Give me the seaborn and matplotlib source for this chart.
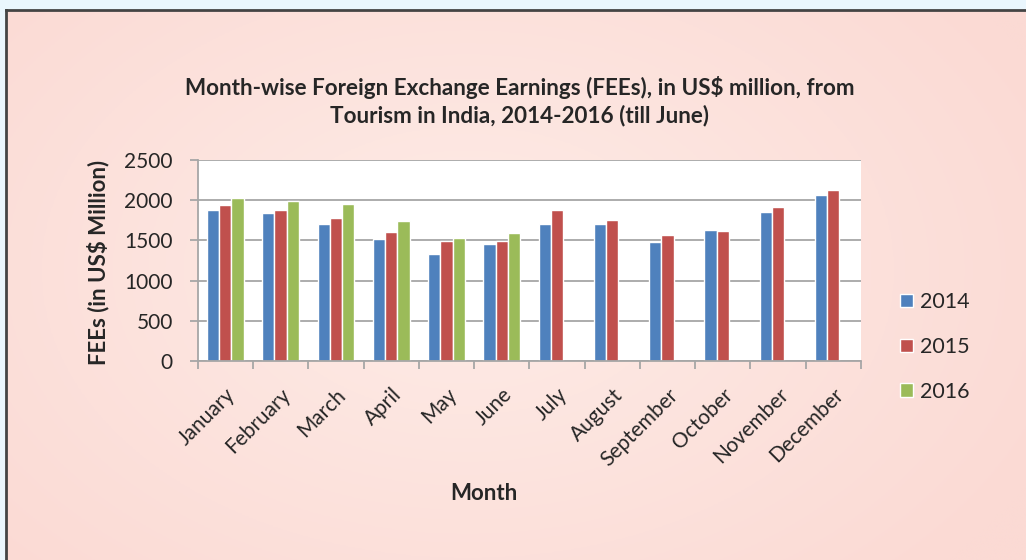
"""Month-wise FEEs from tourism in India, 2014-2016 (grouped bars)"""
import numpy as np
import pandas as pd
import matplotlib

matplotlib.use("Agg")
import matplotlib.pyplot as plt
import seaborn as sns

months = ["January", "February", "March", "April", "May", "June",
          "July", "August", "September", "October", "November", "December"]
fee_2014 = [1878, 1845, 1708, 1514, 1327, 1459, 1704, 1700, 1484, 1630, 1853, 2065]
fee_2015 = [1940, 1874, 1775, 1605, 1493, 1497, 1878, 1750, 1564, 1617, 1912, 2123]
fee_2016 = [2028, 1994, 1953, 1742, 1530, 1592]  # till June
years = ["2014", "2015", "2016"]
colors = ["#4F81BD", "#C0504D", "#9BBB59"]

rows = []
for year, vals in zip(years, [fee_2014, fee_2015, fee_2016]):
    for m, v in zip(months, vals):
        rows.append({"Month": m, "Year": year, "FEE": v})
df = pd.DataFrame(rows)

sns.set_style("white")
plt.rcParams["font.family"] = ["Lato", "DejaVu Sans"]

fig = plt.figure(figsize=(10.26, 5.6), dpi=100)
fig.patch.set_facecolor("#EAF6FD")

# pink gradient panel with dark border (top and left edges only visible)
bg = fig.add_axes([6 / 1026, -0.05, 1.0, 0.05 + 550 / 560])
yy, xx = np.mgrid[0:1:200j, 0:1:300j]
dist = np.sqrt(((xx - 0.45) * 1.2) ** 2 + (yy - 0.45) ** 2)
light = np.array([254, 236, 231]) / 255
dark = np.array([251, 218, 212]) / 255
t = np.clip(dist / 0.75, 0, 1)[..., None]
bg.imshow(light * (1 - t) + dark * t, aspect="auto", extent=[0, 1, 0, 1])
bg.set_xticks([])
bg.set_yticks([])
for side, sp in bg.spines.items():
    if side in ("top", "left"):
        sp.set_color("#444444")
        sp.set_linewidth(2)
    else:
        sp.set_visible(False)

ax = fig.add_axes([197.7 / 1026, 199 / 560, 663.3 / 1026, 201 / 560])
ax.set_facecolor("white")
sns.barplot(data=df, x="Month", y="FEE", hue="Year", order=months,
            hue_order=years, palette=colors, width=0.665, saturation=1,
            ax=ax, legend=True)

ax.set_xlim(-0.5, 11.5)
ax.set_ylim(0, 2500)
ax.set_yticks(range(0, 2501, 500))
ax.yaxis.grid(True, color="#A6A6A6", linewidth=1.3)
ax.set_axisbelow(True)
for s in ("top", "right"):
    ax.spines[s].set_visible(False)
for s in ("left", "bottom"):
    ax.spines[s].set_color("#A6A6A6")
    ax.spines[s].set_linewidth(1.3)

ax.set_xticks(np.arange(-0.5, 12, 1), minor=True)
ax.tick_params(axis="x", which="minor", length=6, color="#A6A6A6", width=1.3,
               direction="out", bottom=True)
ax.tick_params(axis="x", which="major", length=0, pad=17)
ax.tick_params(axis="y", length=5.8, color="#A6A6A6", width=1.3, left=True,
               labelsize=15, pad=12)
ax.set_xticks(range(12))
ax.set_xticklabels(months, rotation=45, ha="right", rotation_mode="anchor",
                   fontsize=15)

ax.set_xlabel("")
ax.set_ylabel("")
fig.text(484 / 1026, 1 - 493 / 560, "Month", ha="center", va="center",
         fontsize=16, fontweight="bold")
fig.text(98 / 1026, 1 - 262 / 560, "FEEs (in US$ Million)", ha="center",
         va="center", rotation=90, fontsize=16, fontweight="bold")
fig.text(519.5 / 1026, 1 - 101 / 560,
         "Month-wise Foreign Exchange Earnings (FEEs), in US$ million, from\n"
         "Tourism in India, 2014-2016 (till June)",
         ha="center", va="center", fontsize=16.2, fontweight="bold",
         linespacing=1.3)

handles, labels = ax.get_legend_handles_labels()
ax.get_legend().remove()
fig.legend(handles, labels, loc="center left",
           bbox_to_anchor=(900 / 1026, 1 - 347 / 560), frameon=False,
           fontsize=15.5, handlelength=0.6, handleheight=0.6,
           handletextpad=0.35, labelspacing=1.15, borderpad=0,
           borderaxespad=0)

fig.savefig("out.png", dpi=100)
